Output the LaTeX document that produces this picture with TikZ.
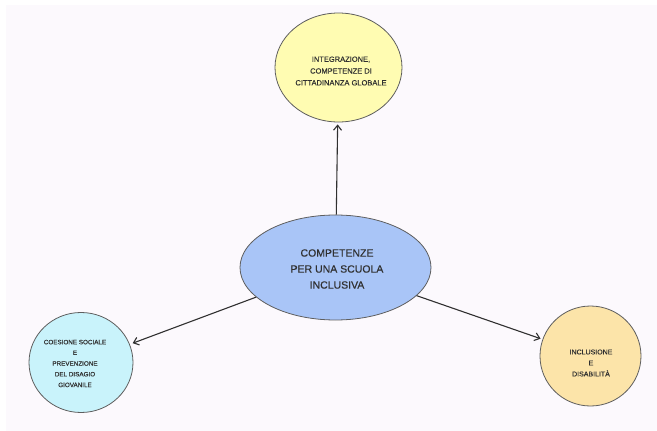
\documentclass[tikz,border=0pt]{standalone}
\usepackage{fontspec}
\setmainfont{Liberation Sans}[BoldFont=Liberation Sans, BoldFeatures={FakeBold=0.35}]
\usetikzlibrary{shapes.geometric,arrows.meta}
\definecolor{bgcol}{HTML}{FCF9FD}
\definecolor{topcol}{HTML}{FFFCB2}
\definecolor{midcol}{HTML}{A9C5F7}
\definecolor{leftcol}{HTML}{C9F3FB}
\definecolor{rightcol}{HTML}{FCE4A9}
\definecolor{edgecol}{HTML}{5E5E5E}
\definecolor{txtcol}{HTML}{303030}
\tikzset{
  bubble/.style={ellipse, draw=edgecol, line width=0.8pt, inner sep=0pt, text=txtcol, align=center},
  label/.style={text=txtcol, align=center},
  link/.style={draw=txtcol, line width=1.1pt, -{Straight Barb[length=5pt,width=8pt,line width=1.1pt]}},
}
\begin{document}
\begin{tikzpicture}[x=1pt,y=-1pt]
\fill[white] (0,0) rectangle (657,431);
\fill[bgcol] (6,5) rectangle (657,431);
\useasboundingbox (0,0) rectangle (657,431);

\node[bubble, fill=topcol, minimum width=127pt, minimum height=109pt] (t) at (338.5,67.5) {};
\node[label, font=\bfseries\fontsize{7.5}{11.8}\selectfont] (tt) at (341,71) {INTEGRAZIONE,\\COMPETENZE DI\\CITTADINANZA GLOBALE};

\node[bubble, fill=midcol, minimum width=191pt, minimum height=105pt] (c) at (335.5,267.5) {};
\node[label, font=\bfseries\fontsize{10.5}{16}\selectfont] (ct) at (337,269) {COMPETENZE\\PER UNA SCUOLA\\INCLUSIVA};

\node[bubble, fill=leftcol, minimum width=104pt, minimum height=100pt] (l) at (81,362.5) {};
\node[label, font=\bfseries\fontsize{6.3}{10.7}\selectfont] (lt) at (75,363.5) {COESIONE SOCIALE\\E\\PREVENZIONE\\DEL DISAGIO\\GIOVANILE};

\node[bubble, fill=rightcol, minimum width=101pt, minimum height=100pt] (r) at (590.5,356) {};
\node[label, font=\bfseries\fontsize{7}{11}\selectfont] (rt) at (591,363) {INCLUSIONE\\E\\DISABILITÀ};

\draw[link, shorten >=2pt] (c) -- (t);
\draw[link, shorten >=3pt] (c) -- (l);
\draw[link, shorten >=2pt] (c) -- (r);
\end{tikzpicture}
\end{document}
